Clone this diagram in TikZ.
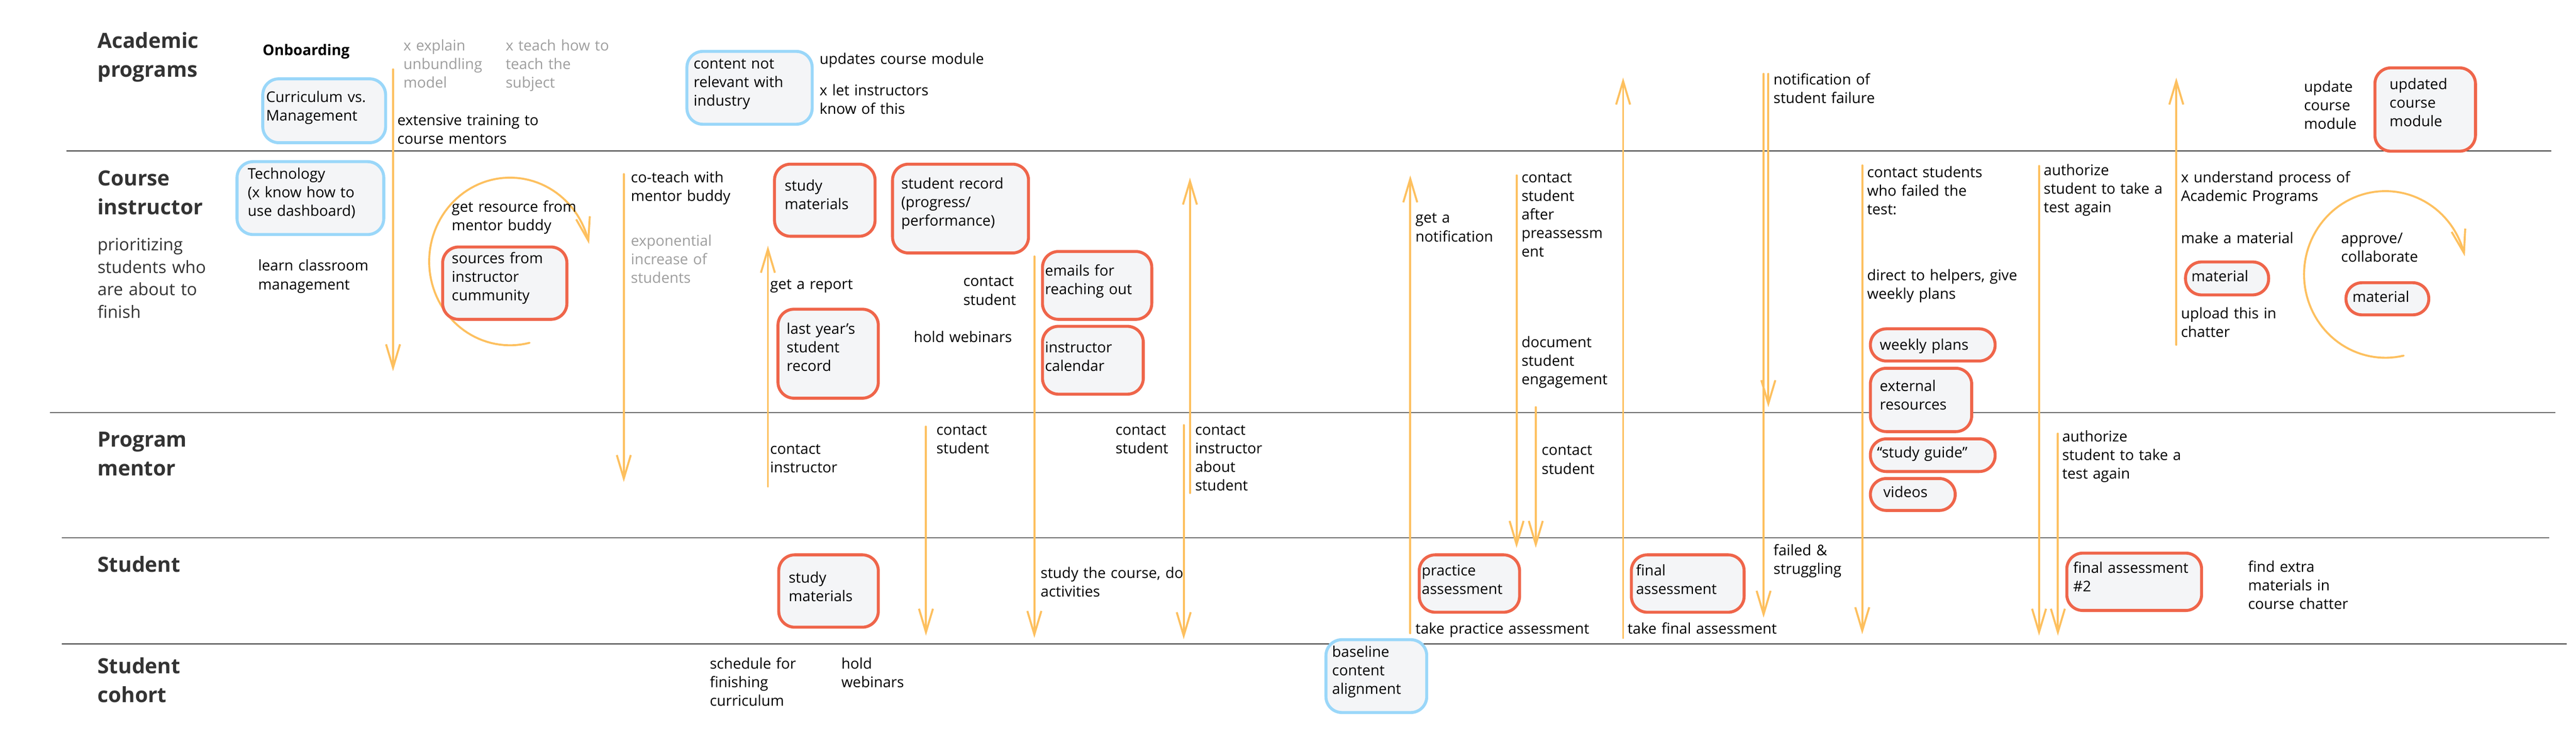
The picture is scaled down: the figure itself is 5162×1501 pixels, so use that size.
\documentclass[tikz,border=0pt]{standalone}
\usepackage{fontspec}
\setmainfont{Open Sans}
\usetikzlibrary{arrows.meta}
\definecolor{arrowc}{HTML}{FDC05F}
\definecolor{boxfill}{HTML}{F4F5F7}
\definecolor{bluec}{HTML}{9AD7F9}
\definecolor{orangec}{HTML}{EF654A}
\definecolor{headc}{HTML}{333333}
\definecolor{grayt}{HTML}{9E9E9E}
\definecolor{lanedark}{HTML}{3C3C3C}
\definecolor{lanelight}{HTML}{6A6A6A}
\newcommand\bodyfont{\fontsize{14.75}{18.6}\selectfont}
\newcommand\headfont{\bfseries\fontsize{21}{28.75}\selectfont}
\newcommand\subfont{\fontsize{17}{22.6}\selectfont}
\newcommand\lanebox[6]{\node[#1, anchor=north west, minimum width={(#5-#3-6)*0.5pt}, minimum height={(#6-#4-6)*0.5pt}] (#2) at ({#3+3},{#4+3}) {};}
\tikzset{
  lbl/.style={anchor=base west, inner sep=0pt, align=left, text width=180pt, font=\bodyfont, text=black},
  graylbl/.style={lbl, text=grayt},
  head/.style={anchor=base west, inner sep=0pt, align=left, text width=150pt, font=\headfont, text=headc},
  bbox/.style={draw=bluec, fill=boxfill, line width=3pt, rounded corners=16pt, inner sep=0pt},
  obox/.style={draw=orangec, fill=boxfill, line width=3pt, rounded corners=16pt, inner sep=0pt},
  flow/.style={draw=arrowc, line width=2pt, line cap=round, -{Straight Barb[length=23.5pt, width=14pt]}},
  lane/.style={line width=1pt}
}
\begin{document}
\begin{tikzpicture}[x=0.5pt, y=-0.5pt]
\useasboundingbox (0,0) rectangle (5162,1501);

% ---------------- lanes
\coordinate (l1a) at (133,302);  \coordinate (l1b) at (5112,302);
\coordinate (l2a) at (100,827);  \coordinate (l2b) at (5121,827);
\coordinate (l3a) at (124,1078); \coordinate (l3b) at (5108,1078);
\coordinate (l4a) at (124,1290); \coordinate (l4b) at (5143,1290);
\draw[lane, draw=lanedark]  (l1a) -- (l1b);
\draw[lane, draw=lanelight] (l2a) -- (l2b);
\draw[lane, draw=lanelight] (l3a) -- (l3b);
\draw[lane, draw=lanedark]  (l4a) -- (l4b);

% ---------------- lane titles
\node[head] (hAP) at (195,97) {Academic\\programs};
\node[head] (hCI) at (195,372) {Course\\instructor};
\node[lbl, font=\subfont, text=headc] (hCIsub) at (195,502) {prioritizing\\students who\\are about to\\finish};
\node[head] (hPM) at (195,896) {Program\\mentor};
\node[head] (hST) at (195,1146) {Student};
\node[head] (hSC) at (195,1350) {Student\\cohort};

% ---------------- arrows
\coordinate (a1s) at (787.6,139);   \coordinate (a1e) at (787.6,744);
\coordinate (a2s) at (1250,349);    \coordinate (a2e) at (1250,966);
\coordinate (a3s) at (1538.8,975);  \coordinate (a3e) at (1538.8,492.6);
\coordinate (a4s) at (2072.7,514);  \coordinate (a4e) at (2072.7,1278.5);
\coordinate (a5s) at (1855.5,855);  \coordinate (a5e) at (1855.5,1274);
\coordinate (a6s) at (2384.5,988);  \coordinate (a6e) at (2384.5,356);
\coordinate (a7s) at (2372,852);    \coordinate (a7e) at (2372,1281);
\coordinate (a8s) at (2826,1269);   \coordinate (a8e) at (2826,351.5);
\coordinate (a9s) at (3039,351.5);  \coordinate (a9e) at (3039,1098);
\coordinate (a10s) at (3077.5,816); \coordinate (a10e) at (3077.5,1098);
\coordinate (a11s) at (3252.5,1278.5); \coordinate (a11e) at (3252.5,155.5);
\coordinate (a12s) at (3534,148);   \coordinate (a12e) at (3534,1238);
\coordinate (a13s) at (3543.5,148); \coordinate (a13e) at (3543.5,816);
\coordinate (a14s) at (3731.7,331.5); \coordinate (a14e) at (3731.7,1271);
\coordinate (a15s) at (4086,332.6); \coordinate (a15e) at (4086,1274);
\coordinate (a16s) at (4123.7,869); \coordinate (a16e) at (4123.7,1274);
\coordinate (a17s) at (4361,691);   \coordinate (a17e) at (4361,155.5);
\foreach \k in {1,...,17} {\draw[flow] (a\k s) -- (a\k e);}

% circular arrows
\draw[flow] plot[domain=76:348, samples=90, variable=\t] ({1022+162*cos(\t)}, {524+168*sin(\t)});
\draw[flow] plot[domain=77:347.5, samples=90, variable=\t] ({4780+163*cos(\t)}, {550+167*sin(\t)});

% ---------------- boxes
\lanebox{bbox}{cur}{520.6}{152}{772.7}{286}
\lanebox{bbox}{tech}{469}{318}{769}{470}
\lanebox{bbox}{cnr}{1370.5}{97}{1627.5}{249}
\lanebox{bbox}{bca}{2651}{1276}{2859}{1428}
\lanebox{obox}{sfic}{881}{489}{1136}{640}
\lanebox{obox}{sma}{1546}{323}{1753.5}{473.5}
\lanebox{obox}{srec}{1782.5}{323}{2061}{507}
\lanebox{obox}{lysr}{1553}{613.7}{1760}{798}
\lanebox{obox}{efro}{2083}{498}{2308}{640}
\lanebox{obox}{ical}{2083}{648}{2291}{790}
\lanebox{obox}{smb}{1554.5}{1106}{1760}{1257}
\lanebox{obox}{pras}{2838}{1106}{3045}{1227}
\lanebox{obox}{fias}{3263}{1106}{3495}{1227}
\lanebox{obox}{wkpl}{3742}{653}{3998}{723.5}
\lanebox{obox}{exre}{3742}{732}{3951}{865}
\lanebox{obox}{stgu}{3742}{873.5}{3998}{945}
\lanebox{obox}{vids}{3742}{953}{3918}{1023}
\lanebox{obox}{ucm}{4753}{130}{4960.5}{303}
\lanebox{obox}{mata}{4373.5}{519}{4546}{591}
\lanebox{obox}{matb}{4695}{560.6}{4867}{631}
\lanebox{obox}{fatwo}{4135.6}{1102.5}{4411.7}{1223.5}

% box texts
\node[lbl] (cur-t) at (533,204.7) {Curriculum vs.\\Management};
\node[lbl] (tech-t) at (496,358.7) {Technology\\(x know how to\\use dashboard)};
\node[lbl] (cnr-t) at (1389.5,137.7) {content not\\relevant with\\industry};
\node[lbl] (bca-t) at (2669,1317) {baseline\\content\\alignment};
\node[lbl] (sfic-t) at (905,528.5) {sources from\\instructor\\cummunity};
\node[lbl] (sma-t) at (1572,382.6) {study\\materials};
\node[lbl] (srec-t) at (1805.7,378) {student record\\(progress/\\performance)};
\node[lbl] (lysr-t) at (1576,669.6) {last year’s\\student\\record};
\node[lbl] (efro-t) at (2093.6,553) {emails for\\reaching out};
\node[lbl] (ical-t) at (2093.6,707) {instructor\\calendar};
\node[lbl] (smb-t) at (1580,1168.5) {study\\materials};
\node[lbl] (pras-t) at (2848.7,1154) {practice\\assessment};
\node[lbl] (fias-t) at (3278,1154) {final\\assessment};
\node[lbl] (wkpl-t) at (3766.5,701.5) {weekly plans};
\node[lbl] (exre-t) at (3766.5,784) {external\\resources};
\node[lbl] (stgu-t) at (3761,917) {“study guide”};
\node[lbl] (vids-t) at (3773.6,997) {videos};
\node[lbl] (ucm-t) at (4788,179) {updated\\course\\module};
\node[lbl] (mata-t) at (4391,564) {material};
\node[lbl] (matb-t) at (4713.5,605) {material};
\node[lbl] (fatwo-t) at (4154,1149) {final assessment\\\#2};

% ---------------- free texts: academic programs
\node[lbl, font=\bodyfont\bfseries] (onb) at (526,111) {Onboarding};
\node[graylbl] (xexp) at (808,101.4) {x explain\\unbundling\\model};
\node[graylbl] (xteach) at (1013,101.4) {x teach how to\\teach the\\subject};
\node[lbl] (ext) at (796,251) {extensive training to\\course mentors};
\node[lbl] (upd) at (1642,129) {updates course module};
\node[lbl] (xlet) at (1642,191) {x let instructors\\know of this};
\node[lbl] (nsf) at (3553.5,170) {notification of\\student failure};
\node[lbl] (ucmod) at (4616.5,184) {update\\course\\module};

% course instructor
\node[lbl] (lcm) at (517,543) {learn classroom\\management};
\node[lbl] (grmb) at (905,424.7) {get resource from\\mentor buddy};
\node[lbl] (cotw) at (1264,366) {co-teach with\\mentor buddy};
\node[graylbl] (expi) at (1264,492.6) {exponential\\increase of\\students};
\node[lbl] (gar) at (1543,579.7) {get a report};
\node[lbl] (cs1) at (1930,574) {contact\\student};
\node[lbl] (hw1) at (1830.6,686) {hold webinars};
\node[lbl] (gan) at (2836,447) {get a\\notification};
\node[lbl] (csap) at (3048.5,366) {contact\\student\\after\\preassessm\\ent};
\node[lbl] (dse) at (3048.5,696) {document\\student\\engagement};
\node[lbl] (csft) at (3741,355.6) {contact students\\who failed the\\test:};
\node[lbl] (dth) at (3741,562) {direct to helpers, give\\weekly plans};
\node[lbl] (auth1) at (4095,351.5) {authorize\\student to take a\\test again};
\node[lbl] (xund) at (4370,366) {x understand process of\\Academic Programs};
\node[lbl] (mam) at (4370,488) {make a material};
\node[lbl] (utic) at (4370,638.5) {upload this in\\chatter};
\node[lbl] (appr) at (4691,488) {approve/\\collaborate};

% program mentor
\node[lbl] (cinst) at (1543,910) {contact\\instructor};
\node[lbl] (cs2) at (1876,872) {contact\\student};
\node[lbl] (cs3) at (2235,872) {contact\\student};
\node[lbl] (ciab) at (2394.5,872) {contact\\instructor\\about\\student};
\node[lbl] (cs4) at (3089,912.6) {contact\\student};
\node[lbl] (auth2) at (4132,885) {authorize\\student to take a\\test again};

% student
\node[lbl] (stc) at (2085,1159) {study the course, do\\activities};
\node[lbl] (tpa) at (2836,1270) {take practice assessment};
\node[lbl] (tfa) at (3261,1270) {take final assessment};
\node[lbl] (fas) at (3553.5,1113.5) {failed \&\\struggling};
\node[lbl] (fem) at (4504.5,1146) {find extra\\materials in\\course chatter};

% student cohort
\node[lbl] (sfc) at (1422,1340.7) {schedule for\\finishing\\curriculum};
\node[lbl] (hw2) at (1685.5,1340.7) {hold\\webinars};
\end{tikzpicture}
\end{document}
